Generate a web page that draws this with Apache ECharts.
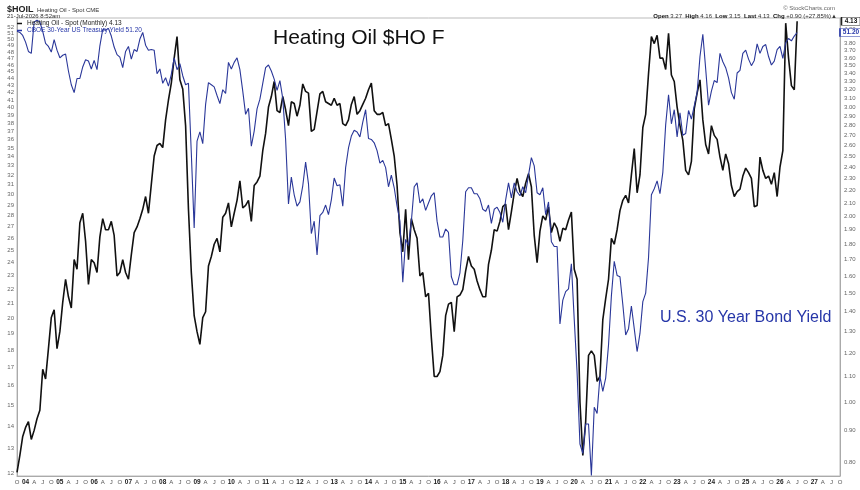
<!DOCTYPE html>
<html>
<head>
<meta charset="utf-8">
<script src="https://cdn.jsdelivr.net/npm/echarts@6/dist/echarts.min.js"></script>
<style>
  html, body { margin: 0; padding: 0; background: #fff; }
  #main-chart { width: 860px; height: 490px; }
</style>
</head>
<body>
<div id="main-chart"></div>
<script>
const myChart = echarts.init(document.getElementById('main-chart'));

// monthly closes, Oct 2003 .. Jul 2026
const heatingOil = [
  0.77, 0.82, 0.88,
  0.91, 0.93, 0.87, 0.90, 0.94, 0.97, 1.13, 1.09, 1.22, 1.37, 1.41, 1.22,
  1.30, 1.45, 1.58, 1.48, 1.42, 1.70, 1.64, 1.95, 2.02, 1.82, 1.55, 1.70,
  1.68, 1.62, 1.85, 1.98, 1.90, 1.90, 1.96, 1.86, 1.60, 1.62, 1.70, 1.62,
  1.58, 1.73, 1.88, 1.92, 1.98, 2.05, 2.15, 2.02, 2.25, 2.50, 2.60, 2.62,
  2.58, 2.86, 3.08, 3.28, 3.60, 3.90, 3.32, 3.21, 2.80, 2.05, 1.62, 1.38,
  1.30, 1.24, 1.37, 1.40, 1.66, 1.72, 1.80, 1.84, 1.75, 1.99, 2.02, 2.10,
  1.92, 2.02, 2.12, 2.28, 2.06, 2.08, 2.12, 1.96, 2.24, 2.27, 2.32, 2.55,
  2.72, 3.00, 3.12, 3.30, 2.96, 2.94, 3.12, 2.97, 2.80, 3.06, 3.04, 2.90,
  3.02, 3.27, 3.18, 3.16, 2.74, 2.76, 2.95, 3.15, 3.18, 3.06, 3.04, 3.02,
  3.10, 3.02, 3.04, 2.82, 2.80, 2.86, 3.03, 3.12, 2.92, 2.96, 3.03, 3.10,
  3.20, 3.28, 2.96, 2.92, 2.92, 2.94, 2.80, 2.82, 2.66, 2.50, 2.24, 1.88,
  1.75, 2.05, 1.70, 1.98, 1.90, 1.84, 1.60, 1.62, 1.48, 1.50, 1.27, 1.10,
  1.10, 1.12, 1.19, 1.38, 1.44, 1.45, 1.30, 1.48, 1.49, 1.52, 1.63, 1.72,
  1.66, 1.64, 1.57, 1.52, 1.48, 1.48, 1.67, 1.76, 1.90, 1.89, 1.96, 2.07,
  2.09, 1.90, 2.03, 2.18, 2.30, 2.19, 2.15, 2.26, 2.34, 2.23, 1.86, 1.68,
  1.89, 2.00, 1.97, 2.07, 1.88, 1.95, 1.91, 1.82, 1.91, 1.90, 1.97, 2.03,
  1.64, 1.58, 1.00, 0.82, 0.93, 1.19, 1.21, 1.19, 1.08, 1.10, 1.36, 1.47,
  1.58, 1.84, 1.80, 1.90, 2.04, 2.12, 2.16, 2.10, 2.33, 2.57, 2.18, 2.33,
  2.78, 2.92, 3.40, 3.90, 3.80, 3.92, 3.60, 3.60, 3.45, 3.95, 3.38, 3.30,
  3.00, 2.80, 2.65, 2.37, 2.33, 2.45, 2.98, 3.16, 3.32, 2.86, 2.61, 2.52,
  2.80, 2.70, 2.66, 2.49, 2.37, 2.52, 2.43, 2.24, 2.15, 2.19, 2.21, 2.32,
  2.39, 2.35, 2.30, 2.07, 2.08, 2.49, 2.37, 2.30, 2.32, 2.25, 2.35, 2.15,
  2.40, 2.55, 4.10, 3.60, 3.25, 3.20, 4.13
];

// 30-year yield x10, same months
const yield30 = [
  51.4, 51.2, 50.7,
  49.6, 48.1, 47.8, 53.0, 53.3, 53.0, 51.4, 49.4, 48.9, 48.0, 50.0, 48.3,
  47.1, 47.5, 47.7, 45.1, 43.1, 42.0, 44.0, 44.0, 45.7, 46.8, 46.6, 45.4,
  46.7, 45.3, 49.0, 51.7, 51.6, 51.9, 50.6, 48.8, 47.6, 47.2, 45.6, 48.1,
  48.9, 46.9, 48.4, 48.1, 50.1, 51.2, 49.1, 48.3, 48.4, 48.3, 44.7, 45.4,
  43.3, 44.1, 42.9, 44.6, 47.1, 45.3, 46.2, 44.4, 43.1, 43.3, 34.4, 26.9,
  35.8, 36.9, 35.5, 40.4, 43.4, 43.1, 42.8, 41.6, 40.5, 42.4, 41.9, 46.4,
  45.4, 46.4, 47.1, 45.3, 42.2, 39.1, 39.9, 35.2, 37.0, 39.8, 41.1, 43.3,
  45.6, 46.0, 45.1, 43.9, 42.3, 43.7, 41.2, 36.0, 29.1, 31.8, 30.0, 28.9,
  29.3, 30.9, 33.4, 31.1, 26.4, 27.5, 24.6, 28.0, 28.3, 29.0, 28.1, 29.5,
  31.7, 30.9, 31.0, 28.9, 32.8, 35.0, 36.4, 37.1, 36.9, 36.3, 38.1, 39.7,
  36.1, 36.0, 35.6, 34.7, 33.3, 33.6, 32.8, 30.8, 32.0, 30.7, 28.9, 27.5,
  22.5, 25.9, 25.4, 27.5, 30.8, 31.2, 29.2, 29.6, 28.5, 29.2, 29.9, 30.2,
  27.5, 26.1, 26.1, 26.8, 26.5, 22.9, 22.3, 22.3, 23.2, 25.8, 30.3, 30.7,
  30.7, 30.1, 30.1, 29.6, 28.6, 28.4, 29.0, 27.3, 28.6, 28.8, 28.3, 27.4,
  29.5, 31.2, 29.7, 31.2, 30.3, 29.9, 30.8, 30.2, 32.0, 33.9, 33.0, 30.2,
  30.0, 30.7, 28.1, 29.3, 25.7, 25.3, 25.3, 19.6, 21.2, 21.8, 22.0, 23.9,
  19.9, 16.7, 13.2, 12.8, 14.1, 14.1, 11.9, 14.9, 14.6, 16.5, 15.7, 16.4,
  18.3, 21.5, 24.1, 23.0, 22.9, 20.9, 18.9, 19.3, 20.8, 19.3, 17.9, 19.0,
  21.1, 21.7, 24.4, 30.0, 30.6, 31.4, 30.1, 32.3, 37.8, 41.7, 37.9, 39.7,
  36.3, 39.3, 36.5, 36.7, 39.6, 38.5, 40.2, 42.0, 47.3, 50.9, 45.4, 40.3,
  42.2, 43.7, 43.4, 47.8, 46.5, 45.6, 44.1, 42.0, 41.1, 44.8, 45.2, 47.8,
  48.3, 46.9, 45.9, 46.7, 49.3, 47.8, 48.9, 49.2, 47.3, 46.0, 46.6, 48.4,
  48.9, 47.0, 49.5, 50.2, 49.8, 50.6, 51.2
];

const leftTicks = [12, 13, 14, 15, 16, 17, 18, 19, 20, 21, 22, 23, 24, 25, 26, 27, 28, 29, 30,
  31, 32, 33, 34, 35, 36, 37, 38, 39, 40, 41, 42, 43, 44, 45, 46, 47, 48, 49, 50, 51, 52, 53];
const rightTicks = [0.80, 0.90, 1.00, 1.10, 1.20, 1.30, 1.40, 1.50, 1.60, 1.70, 1.80, 1.90, 2.00,
  2.10, 2.20, 2.30, 2.40, 2.50, 2.60, 2.70, 2.80, 2.90, 3.00, 3.10, 3.20, 3.30, 3.40, 3.50, 3.60,
  3.70, 3.80, 4.00];
const monthLetters = ['', '', '', 'A', '', '', 'J', '', '', 'O', '', ''];

// axis months Oct 2003 .. Oct 2027
const months = [];
for (let i = 0; i <= 288; i++) {
  const mm = (9 + i) % 12, yy = 2003 + Math.floor((9 + i) / 12);
  months.push(yy + '-' + (mm + 1));
}

const lastHO = heatingOil[heatingOil.length - 1];
const lastTY = yield30[yield30.length - 1];
const lastCat = months[months.length - 1];

let option = {
  animation: false,
  title: [
    { text: '$HOIL', left: 2, top: 0, textStyle: { fontSize: 9, fontWeight: 'bold', color: '#222', fontFamily: 'Liberation Sans' } },
    { text: 'Heating Oil - Spot CME', left: 32, top: 2, textStyle: { fontSize: 6, fontWeight: 'normal', color: '#333', fontFamily: 'Liberation Sans' } },
    { text: '21-Jul-2026 8:52am', left: 2, top: 8, textStyle: { fontSize: 6, fontWeight: 'normal', color: '#333', fontFamily: 'Liberation Sans' } },
    { text: '© StockCharts.com', right: 20, top: 0, textStyle: { fontSize: 6, fontWeight: 'normal', color: '#666', fontFamily: 'Liberation Sans' } },
    { text: '{b|Open} 3.27  {b|High} 4.16  {b|Low} 3.15  {b|Last} 4.13  {b|Chg} +0.90 (+27.85%)▲', right: 18, top: 8,
      textStyle: { fontSize: 6, fontWeight: 'normal', color: '#333', fontFamily: 'Liberation Sans',
        rich: { b: { fontSize: 6, fontWeight: 'bold', color: '#111' } } } },
    { text: 'Heating Oil $HO F', left: 268, top: 23, textStyle: { fontSize: 21, fontWeight: 'normal', color: '#111', fontFamily: 'Liberation Sans' } },
    { text: 'U.S. 30 Year Bond Yield', left: 655, top: 305, textStyle: { fontSize: 16, fontWeight: 'normal', color: '#2636a8', fontFamily: 'Liberation Sans' } }
  ],
  legend: {
    left: 12, top: 15, orient: 'vertical', itemGap: 0, itemWidth: 5, itemHeight: 1.5,
    icon: 'rect',
    formatter: function (name) {
      return name === 'Heating Oil - Spot (Monthly)' ? name + ' ' + lastHO.toFixed(2) : name + ' ' + lastTY.toFixed(2);
    },
    data: [
      { name: 'Heating Oil - Spot (Monthly)', textStyle: { color: '#222' } },
      { name: 'CBOE 30-Year US Treasury Yield', textStyle: { color: '#2636a8' } }
    ],
    textStyle: { fontSize: 6.5, fontFamily: 'Liberation Sans' }
  },
  grid: { left: 17, right: 20, top: 18, bottom: 14, show: true, borderColor: '#bbb', borderWidth: 1 },
  xAxis: {
    type: 'category',
    data: months,
    boundaryGap: false,
    axisLine: { onZero: false, lineStyle: { color: '#aaa' } },
    axisTick: { show: false },
    axisLabel: {
      interval: function (idx) { return monthLetters[(9 + idx) % 12] !== '' || (9 + idx) % 12 === 0; },
      formatter: function (val) {
        const p = val.split('-'), mi = +p[1] - 1;
        return mi === 0 ? '{b|' + p[0].slice(2) + '}' : monthLetters[mi];
      },
      fontSize: 6, color: '#555', margin: 3, fontFamily: 'Liberation Sans',
      rich: { b: { fontSize: 6.5, fontWeight: 'bold', color: '#222' } }
    },
    splitLine: { show: false }
  },
  yAxis: [
    {
      type: 'value', position: 'left',
      min: Math.log(11.88), max: Math.log(53.7),
      axisLine: { show: true, onZero: false, lineStyle: { color: '#aaa' } },
      axisTick: { show: false },
      splitLine: { show: false },
      axisLabel: {
        customValues: leftTicks.map(v => Math.log(v)),
        formatter: v => String(Math.round(Math.exp(v))),
        fontSize: 6, color: '#666', margin: 3, fontFamily: 'Liberation Sans'
      }
    },
    {
      type: 'value', position: 'right',
      min: Math.log(0.7594), max: Math.log(4.18),
      axisLine: { show: true, onZero: false, lineStyle: { color: '#aaa' } },
      axisTick: { show: false },
      splitLine: { show: false },
      axisLabel: {
        customValues: rightTicks.map(v => Math.log(v)),
        formatter: v => Math.exp(v).toFixed(2),
        fontSize: 6, color: '#666', margin: 4, fontFamily: 'Liberation Sans'
      }
    }
  ],
  series: [
    {
      name: 'Heating Oil - Spot (Monthly)', type: 'line', yAxisIndex: 1,
      data: heatingOil.map(v => Math.log(v)),
      symbol: 'none', itemStyle: { color: '#111' },
      lineStyle: { color: '#111', width: 1.6 },
      markPoint: {
        symbol: 'rect', symbolSize: [19, 8], symbolOffset: [11, 0],
        itemStyle: { color: '#fff', borderColor: '#222', borderWidth: 1 },
        label: { show: true, formatter: () => lastHO.toFixed(2), fontSize: 6.5, fontWeight: 'bold', color: '#111', fontFamily: 'Liberation Sans' },
        data: [{ coord: [lastCat, Math.log(lastHO)] }]
      }
    },
    {
      name: 'CBOE 30-Year US Treasury Yield', type: 'line', yAxisIndex: 0,
      data: yield30.map(v => Math.log(v)),
      symbol: 'none', itemStyle: { color: '#2636a8' },
      lineStyle: { color: '#2a3799', width: 1.1 },
      markPoint: {
        symbol: 'rect', symbolSize: [22, 8], symbolOffset: [11, 0],
        itemStyle: { color: '#fff', borderColor: '#2636a8', borderWidth: 1 },
        label: { show: true, formatter: () => lastTY.toFixed(2), fontSize: 6.5, fontWeight: 'bold', color: '#2636a8', fontFamily: 'Liberation Sans' },
        data: [{ coord: [lastCat, Math.log(lastTY)] }]
      }
    }
  ]
};

myChart.setOption(option);
</script>
</body>
</html>
